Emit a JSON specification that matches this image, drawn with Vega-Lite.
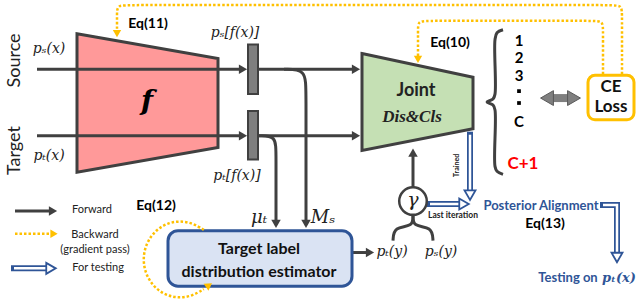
{
"$schema":"https://vega.github.io/schema/vega-lite/v6.json",
"width":636,"height":306,"padding":0,
"autosize":{"type":"fit","contains":"padding"},
"background":"white",
"config":{"view":{"stroke":null}},
"datasets":{
"trapF":[{"x":77,"y":31,"y2":171},{"x":218,"y":56,"y2":146}],
"trapJ":[{"x":362,"y":51,"y2":149},{"x":473,"y":75,"y2":127}],
"bars":[{"x":248,"x2":258,"y":42,"y2":92},{"x":248,"x2":258,"y":109,"y2":158}],
"est":[{"x":168,"x2":352,"y":230,"y2":286}],
"ce":[{"x":588,"x2":634,"y":73,"y2":118}],
"fwd":[
{"id":"s1","i":0,"x":37,"y":67},{"id":"s1","i":1,"x":242,"y":67},
{"id":"t1","i":0,"x":37,"y":134},{"id":"t1","i":1,"x":242,"y":134},
{"id":"s2","i":0,"x":259,"y":67},{"id":"s2","i":1,"x":355,"y":67},
{"id":"t2","i":0,"x":259,"y":134},{"id":"t2","i":1,"x":355,"y":134},
{"id":"ms","i":0,"x":284,"y":67},{"id":"ms","i":1,"x":306,"y":67},{"id":"ms","i":2,"x":306,"y":89},{"id":"ms","i":3,"x":306,"y":222},
{"id":"mu","i":0,"x":259,"y":134},{"id":"mu","i":1,"x":276,"y":134},{"id":"mu","i":2,"x":276,"y":152},{"id":"mu","i":3,"x":276,"y":222},
{"id":"g","i":0,"x":413,"y":186},{"id":"g","i":1,"x":413,"y":152},
{"id":"yl","i":0,"x":413,"y":214},{"id":"yl","i":1,"x":413,"y":226},{"id":"yl","i":2,"x":394,"y":226},{"id":"yl","i":3,"x":393,"y":240},
{"id":"yr","i":0,"x":413,"y":214},{"id":"yr","i":1,"x":413,"y":226},{"id":"yr","i":2,"x":432,"y":226},{"id":"yr","i":3,"x":433,"y":240},
{"id":"pt","i":0,"x":353,"y":252},{"id":"pt","i":1,"x":369,"y":252},
{"id":"lg","i":0,"x":15,"y":210},{"id":"lg","i":1,"x":52,"y":210}
],
"fwdHeads":[
{"x":243,"y":67,"dir":"r"},{"x":243,"y":134,"dir":"r"},{"x":356,"y":67,"dir":"r"},{"x":356,"y":134,"dir":"r"},
{"x":306,"y":223,"dir":"d"},{"x":276,"y":223,"dir":"d"},{"x":413,"y":151,"dir":"u"},{"x":370,"y":252,"dir":"r"},{"x":53,"y":210,"dir":"r"}
],
"brace":[
{"i":0,"x":503,"y":27},{"i":1,"x":497,"y":30},{"i":2,"x":495,"y":37},{"i":3,"x":495,"y":92},{"i":4,"x":493,"y":97},{"i":5,"x":487,"y":100},{"i":6,"x":493,"y":103},{"i":7,"x":495,"y":108},{"i":8,"x":495,"y":165},{"i":9,"x":497,"y":170},{"i":10,"x":503,"y":173}
],
"bwd":[
{"id":"o","i":0,"x":622,"y":72},{"id":"o","i":1,"x":622,"y":12},{"id":"o","i":2,"x":622,"y":2},{"id":"o","i":3,"x":610,"y":2},{"id":"o","i":4,"x":129,"y":2},{"id":"o","i":5,"x":117,"y":2},{"id":"o","i":6,"x":117,"y":12},{"id":"o","i":7,"x":117,"y":27},
{"id":"n","i":0,"x":603,"y":72},{"id":"n","i":1,"x":603,"y":28},{"id":"n","i":2,"x":603,"y":18},{"id":"n","i":3,"x":593,"y":18},{"id":"n","i":4,"x":428,"y":18},{"id":"n","i":5,"x":418,"y":18},{"id":"n","i":6,"x":418,"y":28},{"id":"n","i":7,"x":418,"y":54},
{"id":"l","i":0,"x":15,"y":233},{"id":"l","i":1,"x":50,"y":233},
{"id":"a","i":0,"x":203.8,"y":229.1},{"id":"a","i":1,"x":192.7,"y":222.3},{"id":"a","i":2,"x":180,"y":220},{"id":"a","i":3,"x":167.3,"y":222.3},{"id":"a","i":4,"x":156.2,"y":229.1},{"id":"a","i":5,"x":148,"y":239.5},{"id":"a","i":6,"x":143.6,"y":252.2},{"id":"a","i":7,"x":143.6,"y":265.8},{"id":"a","i":8,"x":148,"y":278.5},{"id":"a","i":9,"x":156.2,"y":288.9},{"id":"a","i":10,"x":167.3,"y":295.7},{"id":"a","i":11,"x":180,"y":298},{"id":"a","i":12,"x":192.7,"y":295.7},{"id":"a","i":13,"x":203.8,"y":288.9}
],
"bwdHeads":[{"x":117,"y":31,"dir":"d"},{"x":418,"y":57,"dir":"d"},{"x":54,"y":233,"dir":"r"}],
"bwdArcHead":[{"x":209,"y":285}],
"test":[
{"id":"tr","i":0,"x":470,"y":133},{"id":"tr","i":1,"x":470,"y":191},
{"id":"ga","i":0,"x":430,"y":203},{"id":"ga","i":1,"x":461,"y":203},
{"id":"po","i":0,"x":603,"y":204},{"id":"po","i":1,"x":612,"y":204},{"id":"po","i":2,"x":617,"y":204},{"id":"po","i":3,"x":617,"y":210},{"id":"po","i":4,"x":617,"y":254},
{"id":"lg","i":0,"x":14,"y":268},{"id":"lg","i":1,"x":48,"y":268}
],
"testHeads":[{"x":470,"y":194,"dir":"d"},{"x":464,"y":203,"dir":"r"},{"x":617,"y":257,"dir":"d"},{"x":51,"y":268,"dir":"r"}],
"dbl":[{"i":0,"x":550,"y":96},{"i":1,"x":571,"y":96}],
"dblHeads":[{"x":547,"y":96,"dir":"l"},{"x":574,"y":96,"dir":"r"}],
"gamma":[{"x":413,"y":200}],
"dots":[{"x":519,"y":89},{"x":519,"y":101}],
"texts":[
{"g":"eq","t":"Eq(11)","x":148,"y":21},{"g":"eq","t":"Eq(10)","x":450,"y":40},{"g":"eq","t":"Eq(12)","x":156,"y":205},{"g":"eq","t":"Eq(13)","x":545,"y":223},
{"g":"math","t":"pₛ(x)","x":49,"y":46},{"g":"math","t":"pₜ(x)","x":49,"y":155},{"g":"math","t":"pₛ[f(x)]","x":235,"y":30},{"g":"math","t":"pₜ[f(x)]","x":237,"y":175},{"g":"math","t":"pₜ(y)","x":392,"y":251},{"g":"math","t":"pₛ(y)","x":441,"y":251},
{"g":"big","t":"μₜ","x":259,"y":217},{"g":"big","t":"Mₛ","x":323,"y":217},
{"g":"side","t":"Source","x":15,"y":58},{"g":"side","t":"Target","x":15,"y":149},
{"g":"f","t":"f","x":147,"y":100},
{"g":"joint","t":"Joint","x":416,"y":89},
{"g":"dis","t":"Dis&Cls","x":412,"y":115},
{"g":"num","t":"1","x":519,"y":38},{"g":"num","t":"2","x":519,"y":56},{"g":"num","t":"3","x":519,"y":74},{"g":"num","t":"C","x":519,"y":120},
{"g":"red","t":"C+1","x":523,"y":163},
{"g":"ce","t":"CE","x":611,"y":85},{"g":"ce","t":"Loss","x":611,"y":105},
{"g":"est","t":"Target label","x":259,"y":248},{"g":"est","t":"distribution estimator","x":259,"y":272},
{"g":"leg","t":"Forward","x":92,"y":209},{"g":"leg","t":"Backward","x":95,"y":234},{"g":"leg","t":"(gradient pass)","x":95,"y":249},{"g":"leg","t":"For testing","x":98,"y":268},
{"g":"trained","t":"Trained","x":457,"y":164},
{"g":"last","t":"Last iteration","x":453,"y":214},
{"g":"blue","t":"Posterior Alignment","x":541,"y":205},{"g":"blue","t":"Testing on","x":568,"y":278},
{"g":"bluemath","t":"pₜ(x)","x":619,"y":278},
{"g":"gam","t":"γ","x":413,"y":199}
]
},
"encoding":{
"x":{"field":"x","type":"quantitative","scale":{"domain":[0,636],"nice":false,"zero":false},"axis":null},
"y":{"field":"y","type":"quantitative","scale":{"domain":[0,306],"nice":false,"zero":false,"reverse":true},"axis":null}
},
"layer":[
{"data":{"name":"trapF"},"mark":{"type":"area","orient":"vertical","fill":"#FF9999","stroke":"#404040","strokeWidth":3,"opacity":1,"fillOpacity":1},"encoding":{"y2":{"field":"y2"}}},
{"data":{"name":"trapJ"},"mark":{"type":"area","orient":"vertical","fill":"#C5E0B4","stroke":"#404040","strokeWidth":3,"opacity":1,"fillOpacity":1},"encoding":{"y2":{"field":"y2"}}},
{"data":{"name":"fwd"},"mark":{"type":"line","color":"#404040","strokeWidth":3,"interpolate":"basis"},"encoding":{"detail":{"field":"id"},"order":{"field":"i","type":"quantitative"}}},
{"data":{"name":"brace"},"mark":{"type":"line","color":"#404040","strokeWidth":3,"interpolate":"catmull-rom"},"encoding":{"order":{"field":"i","type":"quantitative"}}},
{"data":{"name":"bars"},"mark":{"type":"rect","fill":"#7F7F7F","stroke":"#404040","strokeWidth":2},"encoding":{"x2":{"field":"x2"},"y2":{"field":"y2"}}},
{"data":{"name":"est"},"mark":{"type":"rect","fill":"#DAE3F3","stroke":"#2F5597","strokeWidth":3,"cornerRadius":10},"encoding":{"x2":{"field":"x2"},"y2":{"field":"y2"}}},
{"data":{"name":"ce"},"mark":{"type":"rect","fill":"white","stroke":"#FFC000","strokeWidth":3,"cornerRadius":7},"encoding":{"x2":{"field":"x2"},"y2":{"field":"y2"}}},
{"data":{"name":"bwd"},"mark":{"type":"line","color":"#FFC000","strokeWidth":2.5,"strokeDash":[2.5,2],"interpolate":"basis"},"encoding":{"detail":{"field":"id"},"order":{"field":"i","type":"quantitative"}}},
{"data":{"name":"bwdHeads"},"mark":{"type":"point","filled":true,"color":"#FFC000","size":70,"opacity":1},"encoding":{"shape":{"field":"dir","type":"nominal","scale":{"domain":["r","d","u","l"],"range":["triangle-right","triangle-down","triangle-up","triangle-left"]},"legend":null}}},
{"data":{"name":"bwdArcHead"},"mark":{"type":"point","filled":true,"color":"#FFC000","size":70,"opacity":1,"shape":"triangle-right","angle":-35}},
{"data":{"name":"test"},"mark":{"type":"line","color":"#2F5597","strokeWidth":6,"strokeCap":"square","interpolate":"linear"},"encoding":{"detail":{"field":"id"},"order":{"field":"i","type":"quantitative"}}},
{"data":{"name":"test"},"mark":{"type":"line","color":"white","strokeWidth":2.5,"strokeCap":"butt","interpolate":"linear"},"encoding":{"detail":{"field":"id"},"order":{"field":"i","type":"quantitative"}}},
{"data":{"name":"testHeads"},"mark":{"type":"point","filled":true,"fill":"white","stroke":"#2F5597","strokeWidth":1.8,"size":120,"opacity":1},"encoding":{"shape":{"field":"dir","type":"nominal","scale":{"domain":["r","d","u","l"],"range":["triangle-right","triangle-down","triangle-up","triangle-left"]},"legend":null}}},
{"data":{"name":"fwdHeads"},"mark":{"type":"point","filled":true,"color":"#404040","size":90,"opacity":1},"encoding":{"shape":{"field":"dir","type":"nominal","scale":{"domain":["r","d","u","l"],"range":["triangle-right","triangle-down","triangle-up","triangle-left"]},"legend":null}}},
{"data":{"name":"dbl"},"mark":{"type":"line","color":"#7F7F7F","strokeWidth":8},"encoding":{"order":{"field":"i","type":"quantitative"}}},
{"data":{"name":"dblHeads"},"mark":{"type":"point","filled":true,"fill":"#7F7F7F","stroke":"#595959","strokeWidth":1,"size":220,"opacity":1},"encoding":{"shape":{"field":"dir","type":"nominal","scale":{"domain":["r","d","u","l"],"range":["triangle-right","triangle-down","triangle-up","triangle-left"]},"legend":null}}},
{"data":{"name":"gamma"},"mark":{"type":"point","filled":true,"fill":"white","stroke":"#404040","strokeWidth":2.5,"size":760,"opacity":1,"shape":"circle"}},
{"data":{"name":"dots"},"mark":{"type":"point","filled":true,"color":"black","size":14,"opacity":1,"shape":"square"}},
{"data":{"name":"texts"},"transform":[{"filter":"datum.g=='eq'"}],"mark":{"type":"text","font":"Lato","fontWeight":"bold","fontSize":14,"color":"black","align":"center","baseline":"middle"},"encoding":{"text":{"field":"t"}}},
{"data":{"name":"texts"},"transform":[{"filter":"datum.g=='math'"}],"mark":{"type":"text","font":"DejaVu Serif","fontStyle":"italic","fontSize":14,"color":"#222","align":"center","baseline":"middle"},"encoding":{"text":{"field":"t"}}},
{"data":{"name":"texts"},"transform":[{"filter":"datum.g=='big'"}],"mark":{"type":"text","font":"DejaVu Serif","fontStyle":"italic","fontSize":18,"color":"#222","align":"center","baseline":"middle"},"encoding":{"text":{"field":"t"}}},
{"data":{"name":"texts"},"transform":[{"filter":"datum.g=='side'"}],"mark":{"type":"text","font":"Lato","fontSize":18,"color":"#222","align":"center","baseline":"middle","angle":270},"encoding":{"text":{"field":"t"}}},
{"data":{"name":"texts"},"transform":[{"filter":"datum.g=='f'"}],"mark":{"type":"text","font":"DejaVu Serif","fontStyle":"italic","fontWeight":"bold","fontSize":28,"color":"black","align":"center","baseline":"middle"},"encoding":{"text":{"field":"t"}}},
{"data":{"name":"texts"},"transform":[{"filter":"datum.g=='joint'"}],"mark":{"type":"text","font":"Lato","fontWeight":"bold","fontSize":18,"color":"#222","align":"center","baseline":"middle"},"encoding":{"text":{"field":"t"}}},
{"data":{"name":"texts"},"transform":[{"filter":"datum.g=='dis'"}],"mark":{"type":"text","font":"Liberation Serif","fontStyle":"italic","fontWeight":"bold","fontSize":17,"color":"#222","align":"center","baseline":"middle"},"encoding":{"text":{"field":"t"}}},
{"data":{"name":"texts"},"transform":[{"filter":"datum.g=='num'"}],"mark":{"type":"text","font":"Lato","fontWeight":"bold","fontSize":15,"color":"black","align":"center","baseline":"middle"},"encoding":{"text":{"field":"t"}}},
{"data":{"name":"texts"},"transform":[{"filter":"datum.g=='red'"}],"mark":{"type":"text","font":"Lato","fontWeight":"bold","fontSize":17,"color":"#FF0000","align":"center","baseline":"middle"},"encoding":{"text":{"field":"t"}}},
{"data":{"name":"texts"},"transform":[{"filter":"datum.g=='ce'"}],"mark":{"type":"text","font":"Lato","fontWeight":"bold","fontSize":17,"color":"#111","align":"center","baseline":"middle"},"encoding":{"text":{"field":"t"}}},
{"data":{"name":"texts"},"transform":[{"filter":"datum.g=='est'"}],"mark":{"type":"text","font":"Lato","fontWeight":"bold","fontSize":16,"color":"#111","align":"center","baseline":"middle"},"encoding":{"text":{"field":"t"}}},
{"data":{"name":"texts"},"transform":[{"filter":"datum.g=='leg'"}],"mark":{"type":"text","font":"Lato","fontSize":11,"color":"#222","align":"center","baseline":"middle"},"encoding":{"text":{"field":"t"}}},
{"data":{"name":"texts"},"transform":[{"filter":"datum.g=='trained'"}],"mark":{"type":"text","font":"Lato","fontWeight":"bold","fontSize":7,"color":"#222","align":"center","baseline":"middle","angle":270},"encoding":{"text":{"field":"t"}}},
{"data":{"name":"texts"},"transform":[{"filter":"datum.g=='last'"}],"mark":{"type":"text","font":"Lato","fontWeight":"bold","fontSize":8.5,"color":"#222","align":"center","baseline":"middle"},"encoding":{"text":{"field":"t"}}},
{"data":{"name":"texts"},"transform":[{"filter":"datum.g=='blue'"}],"mark":{"type":"text","font":"Lato","fontWeight":"bold","fontSize":13,"color":"#2F5597","align":"center","baseline":"middle"},"encoding":{"text":{"field":"t"}}},
{"data":{"name":"texts"},"transform":[{"filter":"datum.g=='bluemath'"}],"mark":{"type":"text","font":"DejaVu Serif","fontStyle":"italic","fontWeight":"bold","fontSize":13,"color":"#2F5597","align":"center","baseline":"middle"},"encoding":{"text":{"field":"t"}}},
{"data":{"name":"texts"},"transform":[{"filter":"datum.g=='gam'"}],"mark":{"type":"text","font":"DejaVu Serif","fontStyle":"italic","fontSize":19,"color":"#222","align":"center","baseline":"middle"},"encoding":{"text":{"field":"t"}}}
]
}
